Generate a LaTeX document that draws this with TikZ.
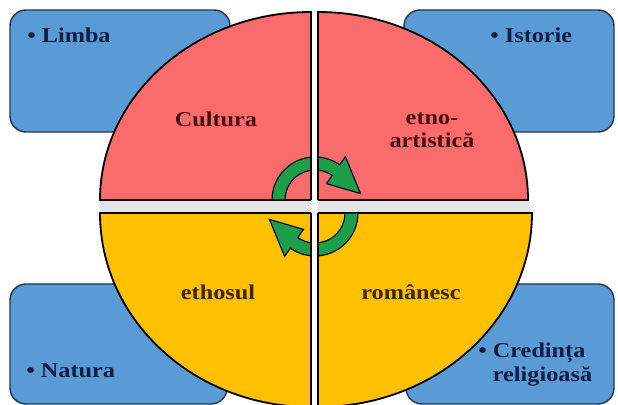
\documentclass[tikz,border=0pt]{standalone}
\usepackage{fontspec}
\setmainfont{Liberation Serif}
\usetikzlibrary{positioning}
\definecolor{TopicBlue}{HTML}{5B9BD5}
\definecolor{TopicLine}{HTML}{22364F}
\definecolor{TopicText}{HTML}{0E1E44}
\definecolor{PieRed}{HTML}{FA6B6B}
\definecolor{PieRedText}{HTML}{4A0F10}
\definecolor{PieGold}{HTML}{FFC000}
\definecolor{PieGoldText}{HTML}{3B2600}
\definecolor{CycleGreen}{HTML}{1E9E4B}
\definecolor{GapGrey}{HTML}{E3E5E8}

\begin{document}
\begin{tikzpicture}[x=0.025cm,y=0.025cm]
    \tikzset{topicbox/.style={draw=TopicLine,fill=TopicBlue,line width=1pt,rounded corners=0.4cm},
      topictext/.style={font=\bfseries\fontsize{15}{16.5}\selectfont,text=TopicText,align=left,
      inner sep=0pt,xscale=1.15,transform shape},
      piece/.style={draw=black,line width=1.3pt},
      piecetext/.style={font=\bfseries\fontsize{15}{16.5}\selectfont,align=center,inner sep=0pt,
      xscale=1.15,transform shape},
      cyclearrow/.style={fill=CycleGreen,draw=black,line width=0.8pt}}
    \useasboundingbox (0,0) rectangle (618,405);
    \clip (0,0) rectangle (618,405);
    % corner boxes
    \draw[topicbox] (10,273) rectangle (230,395);
    \draw[topicbox] (404,273) rectangle (614,395);
    \draw[topicbox] (10,1) rectangle (227,121);
    \draw[topicbox] (406,1) rectangle (614,121);
    % quarters of the disc
    \fill[GapGrey] (100,192) rectangle (530,205);
    \draw[piece,fill=PieRed] (311,205) -- (100,205) arc[start angle=180,end angle=90,x radius=211,y radius=188] -- cycle;
    \draw[piece,fill=PieRed] (318,205) -- (318,393) arc[start angle=90,end angle=0,x radius=210,y radius=188] -- cycle;
    \draw[piece,fill=PieGold] (311,192) -- (100,192) arc[start angle=180,end angle=270,x radius=211,y radius=194] -- cycle;
    \draw[piece,fill=PieGold] (318,192) -- (318,-2) arc[start angle=270,end angle=360,x radius=214,y radius=194] -- cycle;
    % cycle arrows
    \begin{scope}[shift={(315,205)}]
      \draw[cyclearrow] (180:43) arc[start angle=180,end angle=55,radius=43] -- (55:53) -- (8:46)
        -- (55:20) -- (55:30) arc[start angle=55,end angle=180,radius=30] -- cycle;
    \end{scope}
    \begin{scope}[shift={(315,192)},rotate=180]
      \draw[cyclearrow] (180:43) arc[start angle=180,end angle=55,radius=43] -- (55:53) -- (8:46)
        -- (55:20) -- (55:30) arc[start angle=55,end angle=180,radius=30] -- cycle;
    \end{scope}
    % vertical gap
    \fill[white] (311,-2) rectangle (318,392);
    \draw[piece] (311,205) -- (311,393);
    \draw[piece] (318,205) -- (318,393);
    \draw[piece] (311,192) -- (311,-2);
    \draw[piece] (318,192) -- (318,-2);
    % labels
    \node[topictext,anchor=base west] (limba) at (27,362) {\textbullet\ Limba};
    \node[topictext,anchor=base west] (istorie) at (490,362) {\textbullet\ Istorie};
    \node[topictext,anchor=base west] (natura) at (26,27) {\textbullet\ Natura};
    \node[topictext,anchor=north west] (credinta) at (478,62) {\textbullet\ Credința\\\phantom{\textbullet\ }religioasă};
    \node[piecetext,text=PieRedText] (cultura) at (216,286) {Cultura};
    \node[piecetext,text=PieRedText] (etno) at (432,275) {etno-\\artistică};
    \node[piecetext,text=PieGoldText] (ethosul) at (218,113) {ethosul};
    \node[piecetext,text=PieGoldText] (romanesc) at (411,113) {românesc};
  \end{tikzpicture}
\end{document}
